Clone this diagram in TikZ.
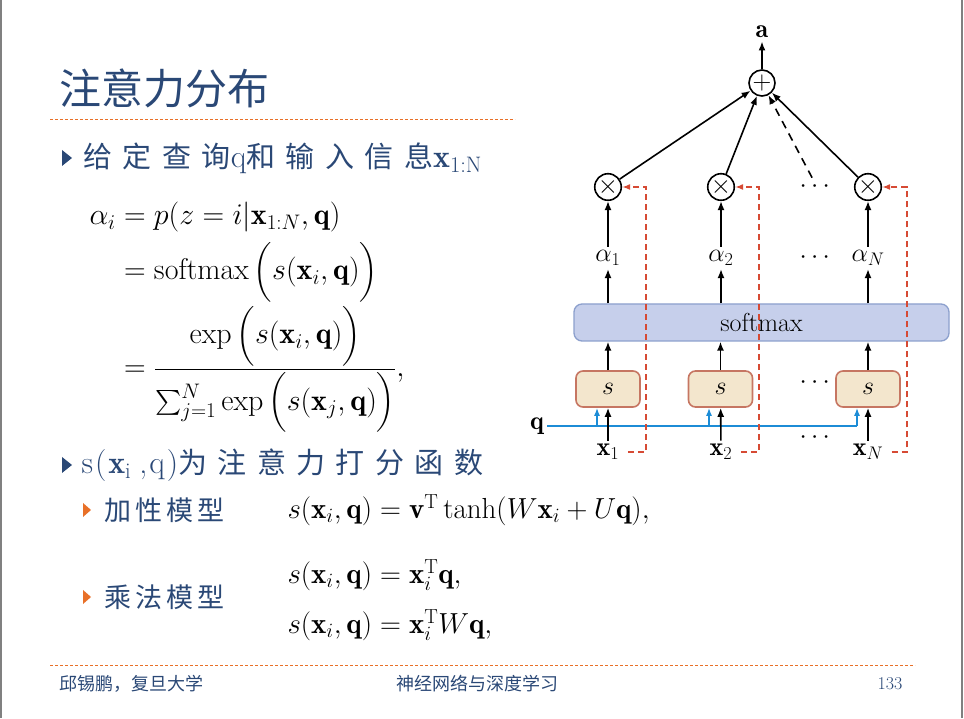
\documentclass[tikz,border=0pt]{standalone}
\usepackage{fix-cm}
\usepackage{amsmath}
\usepackage{bm}
\usepackage{xcolor}
\usepackage{fontspec}
\newfontfamily\cjk{Noto Sans CJK SC}
\newfontfamily\cjkwide[LetterSpace=36]{Noto Sans CJK SC}
\newfontfamily\cjkmid[LetterSpace=15]{Noto Sans CJK SC}
\newcommand\zh[1]{{\cjkwide\fontsize{29}{36}\selectfont #1}}
\usetikzlibrary{arrows, arrows.meta, positioning}

\definecolor{titleblue}{RGB}{42,72,118}
\definecolor{bulletorange}{RGB}{232,112,40}
\definecolor{dashred}{RGB}{214,74,52}
\definecolor{qblue}{RGB}{28,140,214}
\definecolor{smfill}{RGB}{198,207,235}
\definecolor{smdraw}{RGB}{140,160,205}
\definecolor{sfill}{RGB}{243,230,205}
\definecolor{sdraw}{RGB}{198,118,98}

\tikzset{
  arr/.style={line width=1.6pt,-{Latex[length=9pt,width=7pt]}},
  mult/.style={circle,draw,line width=1.6pt,minimum size=26pt,inner sep=0pt,font=\fontsize{26}{26}\selectfont},
  sbox/.style={draw=sdraw,fill=sfill,line width=1.6pt,rounded corners=7pt,minimum width=64pt,minimum height=36pt},
  smbox/.style={draw=smdraw,fill=smfill,line width=1.3pt,rounded corners=8pt,minimum width=375pt,minimum height=37pt},
  rarr/.style={draw=dashred,line width=1.5pt,dash pattern=on 6pt off 4pt,-{Latex[length=8pt,width=6pt]}},
  qarr/.style={draw=qblue,line width=1.5pt,-{Latex[length=8pt,width=6pt]}},
  lbl/.style={font=\fontsize{26}{28}\selectfont},
  body/.style={anchor=west,text=titleblue,font=\fontsize{32}{36}\selectfont},
  sub/.style={anchor=west,text=titleblue,font=\cjkmid\fontsize{27}{30}\selectfont},
  formula/.style={anchor=west,font=\fontsize{29}{34}\selectfont},
  foot/.style={text=titleblue,font=\cjk\fontsize{18}{20}\selectfont}
}

\begin{document}
\begin{tikzpicture}[x=1pt,y=1pt]
\useasboundingbox (0,0) rectangle (964,718);
\draw[gray,line width=1.5pt] (1,0) -- (1,718);
\draw[gray,line width=1.5pt] (962,0) -- (962,718);

% title and text
\node[anchor=west,text=titleblue,font=\cjk\fontsize{42}{42}\selectfont] (title) at (56,630) {注意力分布};
\draw[bulletorange,line width=0.9pt,dash pattern=on 3pt off 2pt] (50,599) -- (515,599);
\fill[titleblue] (62,568) -- (72,560) -- (62,552) -- cycle;
\node[body] (given) at (80,560) {\zh{给定查询}q\zh{和输入信息}$\mathbf{x}_{\mathrm{1:N}}$};
\node[formula,font=\fontsize{30}{36}\selectfont] (alpha) at (86,402) {$\begin{aligned}
  \alpha_i &= p(z=i|\mathbf{x}_{1:N},\mathbf{q})\\[3pt]
  &= \operatorname{softmax}\Big(s(\mathbf{x}_i,\mathbf{q})\Big)\\
  &= \frac{\exp\Big(s(\mathbf{x}_i,\mathbf{q})\Big)}{\sum_{j=1}^N\exp\Big(s(\mathbf{x}_j,\mathbf{q})\Big)},
\end{aligned}$};
\fill[titleblue] (62,261) -- (72,253) -- (62,245) -- cycle;
\node[body] (score) at (78,253) {s\hspace{2pt}(\hspace{2pt}$\mathbf{x}_{\mathrm{i}}$\hspace{8pt},\hspace{2pt}q\hspace{2pt})\zh{为注意力打分函数}};
\fill[bulletorange] (83,215) -- (91,208) -- (83,201) -- cycle;
\node[sub] (add) at (101,208) {加性模型};
\node[formula] (fadd) at (284,208) {$s(\mathbf{x}_i,\mathbf{q}) = \mathbf{v}^{\mathrm{T}}\tanh(W\mathbf{x}_i+U\mathbf{q}),$};
\fill[bulletorange] (83,128) -- (91,121) -- (83,114) -- cycle;
\node[sub] (mul) at (101,121) {乘法模型};
\node[formula] (fdot) at (284,143) {$s(\mathbf{x}_i,\mathbf{q}) = \mathbf{x}_i^{\mathrm{T}}\mathbf{q},$};
\node[formula] (fbil) at (284,93) {$s(\mathbf{x}_i,\mathbf{q}) = \mathbf{x}_i^{\mathrm{T}}W\mathbf{q},$};

% footer
\draw[bulletorange,line width=1pt,dash pattern=on 3pt off 2pt] (50,53) -- (915,53);
\node[foot,anchor=west] (author) at (56,34) {邱锡鹏，复旦大学};
\node[foot] (course) at (477,34) {神经网络与深度学习};
\node[foot,anchor=east,font=\fontsize{18}{20}\selectfont] (page) at (906,34) {133};

% diagram
\node[lbl] (a) at (762,686) {$\mathbf{a}$};
\node[mult] (plus) at (762,635) {$+$};
\node[mult] (m1) at (608,531) {$\times$};
\node[mult] (m2) at (721,531) {$\times$};
\node[mult] (mN) at (868,531) {$\times$};
\node[lbl] (md) at (817,531) {$\cdots$};
\node[lbl] (al1) at (608,460) {$\alpha_1$};
\node[lbl] (al2) at (721,460) {$\alpha_2$};
\node[lbl] (alN) at (868,460) {$\alpha_N$};
\node[lbl] (ald) at (817,460) {$\cdots$};
\node[smbox,lbl] (sm) at (761.5,395.5) {softmax};
\node[sbox,lbl] (s1) at (608,329) {$s$};
\node[sbox,lbl] (s2) at (720.5,329) {$s$};
\node[sbox,lbl] (sN) at (868,329) {$s$};
\node[lbl] (sd) at (817,335) {$\cdots$};
\node[lbl] (x1) at (608,266) {$\mathbf{x}_1$};
\node[lbl] (x2) at (721,266) {$\mathbf{x}_2$};
\node[lbl] (xN) at (868,266) {$\mathbf{x}_N$};
\node[lbl] (xd) at (817,280) {$\cdots$};
\node[lbl] (q) at (537,292) {$\mathbf{q}$};

\draw[arr] (plus) -- (a);
\draw[arr] (m1) -- (plus);
\draw[arr] (m2) -- (plus);
\draw[arr] (mN) -- (plus);
\draw[arr,dash pattern=on 8pt off 6pt] (md) -- (plus);
\draw[arr] (al1) -- (m1);
\draw[arr] (al2) -- (m2);
\draw[arr] (alN) -- (mN);
\draw[arr] (sm.north -| al1) -- (al1);
\draw[arr] (sm.north -| al2) -- (al2);
\draw[arr] (sm.north -| alN) -- (alN);
\draw[arr] (s1) -- (s1 |- sm.south);
\draw[arr] (s2) -- (s2 |- sm.south);
\draw[arr] (sN) -- (sN |- sm.south);

\coordinate (qa1) at (597,292);
\coordinate (qa2) at (709,292);
\coordinate (qaN) at (857,292);
\draw[qblue,line width=1.5pt] (q) -- (qaN);
\draw[qarr] (qa1) -- (qa1 |- s1.south);
\draw[qarr] (qa2) -- (qa2 |- s2.south);
\draw[qarr] (qaN) -- (qaN |- sN.south);
\draw[arr] (x1) -- (s1);
\draw[arr] (x2) -- (s2);
\draw[arr] (xN) -- (sN);

\coordinate (r1) at (646,266);
\coordinate (r2) at (759,266);
\coordinate (rN) at (907,266);
\draw[rarr,shorten <=5pt] (x1) -- (r1) |- (m1);
\draw[rarr,shorten <=5pt] (x2) -- (r2) |- (m2);
\draw[rarr,shorten <=5pt] (xN) -- (rN) |- (mN);
\end{tikzpicture}
\end{document}
